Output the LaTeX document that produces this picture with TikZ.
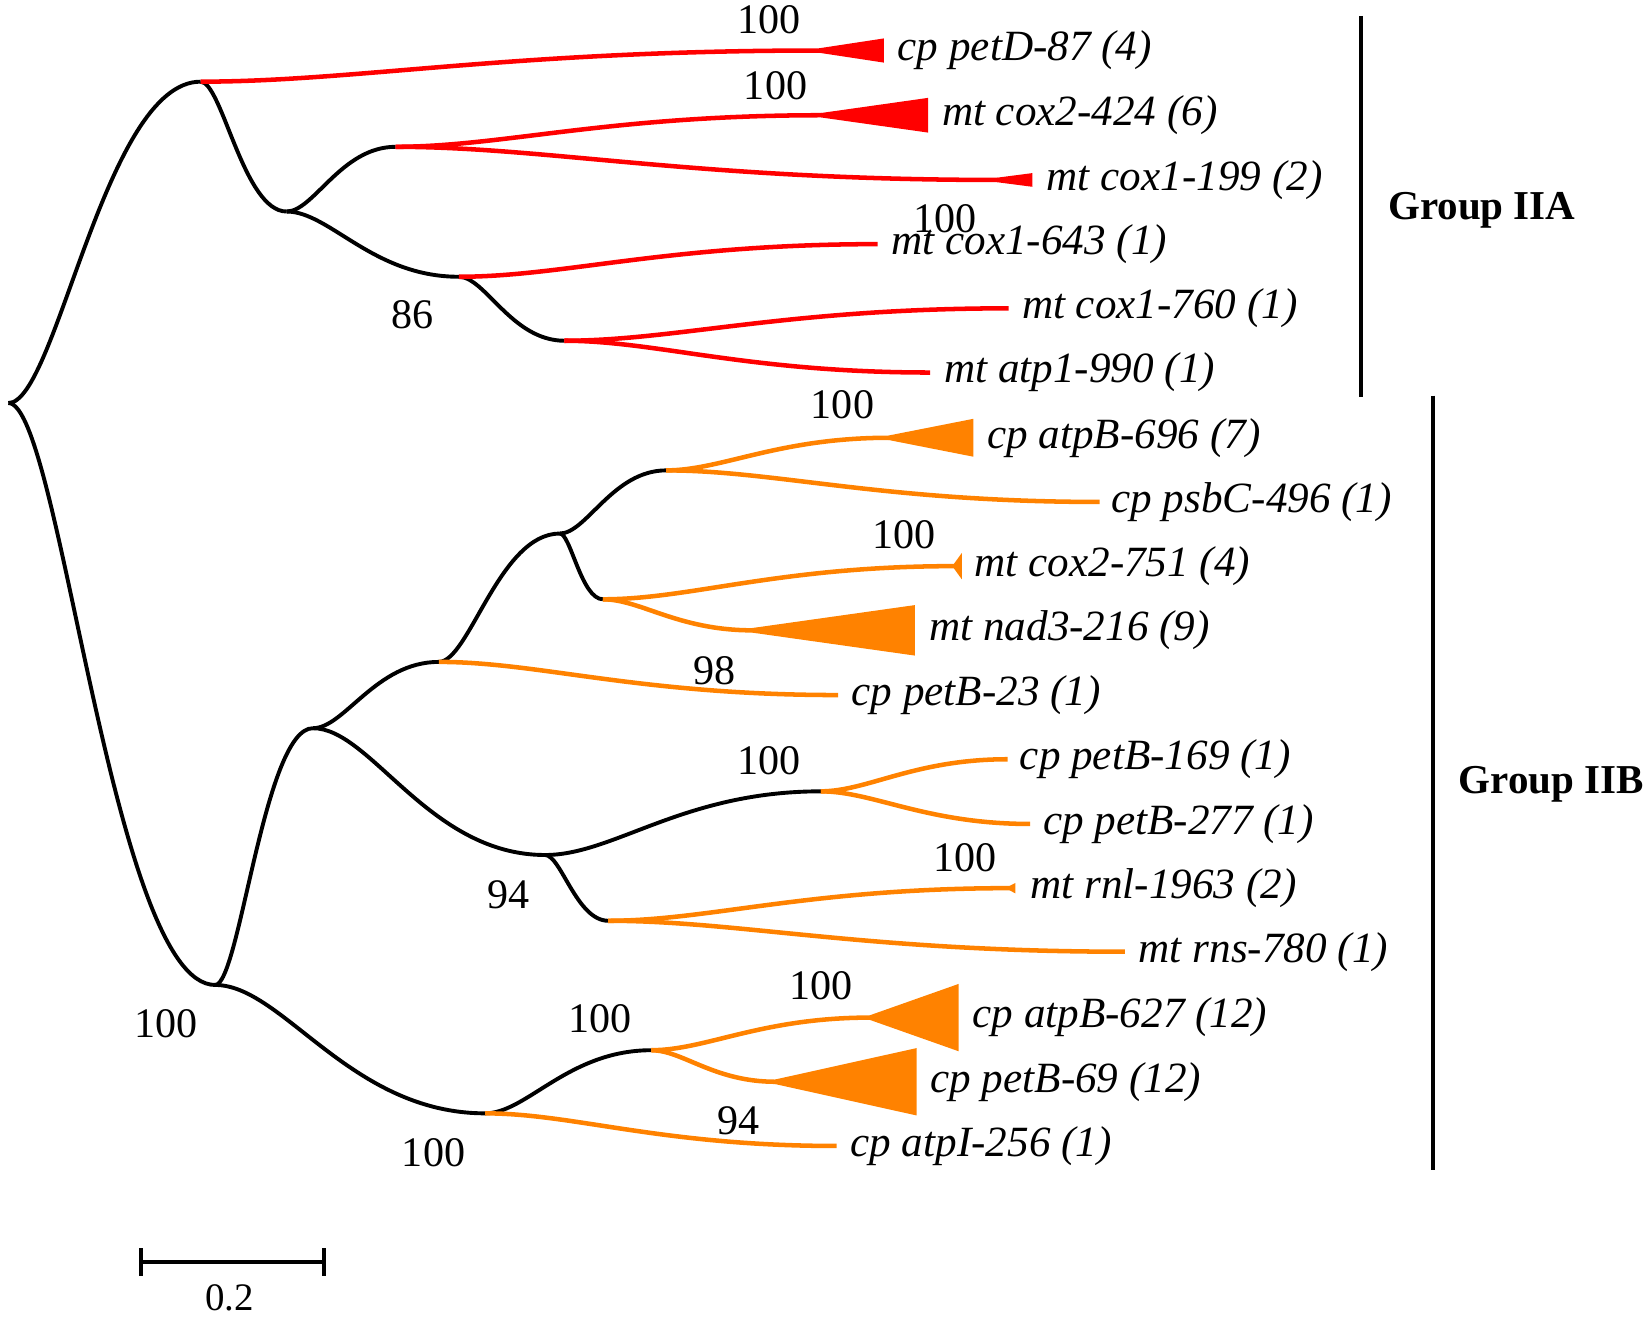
\documentclass[tikz,border=0pt]{standalone}
\usepackage{fontspec}
\setmainfont{Liberation Serif}
\usetikzlibrary{calc}
\definecolor{cred}{RGB}{255,0,0}
\definecolor{corange}{RGB}{255,130,0}
\tikzset{
 brk/.style={draw=black, line width=3.7pt},
 brr/.style={draw=cred, line width=4.3pt},
 bro/.style={draw=corange, line width=4.3pt},
 leaf/.style={anchor=west, inner sep=0pt, font=\fontsize{41}{49}\selectfont\itshape},
 supp/.style={inner sep=0pt, font=\fontsize{40}{48}\selectfont},
 grp/.style={anchor=base west, inner sep=0pt, font=\fontsize{39}{47}\selectfont\bfseries},
 barline/.style={draw=black, line width=3.9pt},
}
\newcommand{\curv}[3]{\path[#1] (#2) .. controls ($(#2)!0.25!(#3 |- #2)$) and ($(#2 |- #3)!0.5!(#3)$) .. (#3);}
\newcommand{\tri}[4]{\fill[#1] ($(#2)+(-0.5,-2.15)$) -- ($(#2)+(#3,-#4)$) -- ($(#2)+(#3,#4)$) -- ($(#2)+(-0.5,2.15)$) -- cycle;}
\begin{document}
\begin{tikzpicture}[x=1pt,y=-1pt]
\useasboundingbox (0,0) rectangle (1568,1251);
% internal nodes
\coordinate (R) at (8,383);
\coordinate (A) at (190.6,77.6);
\coordinate (B) at (272.3,201);
\coordinate (C) at (376,139.5);
\coordinate (D) at (436,263);
\coordinate (E) at (536.4,323.8);
\coordinate (F) at (204.5,936);
\coordinate (G) at (297.4,692);
\coordinate (H) at (417,629);
\coordinate (I) at (532,507);
\coordinate (J) at (633,447);
\coordinate (K) at (573,569.5);
\coordinate (L) at (518,812.5);
\coordinate (M) at (780,752);
\coordinate (N) at (578,875);
\coordinate (O) at (461,1058);
\coordinate (P) at (619,998);
% leaf ends
\coordinate (l1) at (779,48);
\coordinate (l2) at (781,109.5);
\coordinate (l3) at (948,171);
\coordinate (l4) at (834,232);
\coordinate (l5) at (958.6,293);
\coordinate (l6) at (884,354);
\coordinate (l7) at (845,416);
\coordinate (l8) at (1045,477);
\coordinate (l9) at (907,538);
\coordinate (l10) at (715,599);
\coordinate (l11) at (796.4,660.5);
\coordinate (l12) at (957.5,721.5);
\coordinate (l13) at (979,783);
\coordinate (l14) at (960,844);
\coordinate (l15) at (1069,904.4);
\coordinate (l16) at (827,967);
\coordinate (l17) at (737,1028);
\coordinate (l18) at (795,1089);
% black branches
\curv{brk}{R}{A}
\curv{brk}{R}{F}
\curv{brk}{A}{B}
\curv{brk}{B}{C}
\curv{brk}{B}{D}
\curv{brk}{D}{E}
\curv{brk}{F}{G}
\curv{brk}{F}{O}
\curv{brk}{G}{H}
\curv{brk}{G}{L}
\curv{brk}{H}{I}
\curv{brk}{I}{J}
\curv{brk}{I}{K}
\curv{brk}{L}{M}
\curv{brk}{L}{N}
\curv{brk}{O}{P}
% red branches
\curv{brr}{A}{l1}
\curv{brr}{C}{l2}
\curv{brr}{C}{l3}
\curv{brr}{D}{l4}
\curv{brr}{E}{l5}
\curv{brr}{E}{l6}
% orange branches
\curv{bro}{J}{l7}
\curv{bro}{J}{l8}
\curv{bro}{K}{l9}
\curv{bro}{K}{l10}
\curv{bro}{H}{l11}
\curv{bro}{M}{l12}
\curv{bro}{M}{l13}
\curv{bro}{N}{l14}
\curv{bro}{N}{l15}
\curv{bro}{P}{l16}
\curv{bro}{P}{l17}
\curv{bro}{O}{l18}
% collapsed clades
\tri{cred}{l1}{61}{11.5}
\tri{cred}{l2}{101}{16.5}
\tri{cred}{l3}{33}{6.5}
\tri{corange}{l7}{80}{18}
\tri{corange}{l9}{7}{12.5}
\tri{corange}{l10}{154.5}{24}
\tri{corange}{l14}{5}{5}
\tri{corange}{l16}{84}{32}
\tri{corange}{l17}{134}{32}
% leaf labels
\node[leaf] (t1) at (853,48) {cp petD-87 (4)};
\node[leaf] (t2) at (895,109.5) {mt cox2-424 (6)};
\node[leaf] (t3) at (994.6,171) {mt cox1-199 (2)};
\node[leaf] (t4) at (847,232) {mt cox1-643 (1)};
\node[leaf] (t5) at (971,293) {mt cox1-760 (1)};
\node[leaf] (t6) at (897,354) {mt atp1-990 (1)};
\node[leaf] (t7) at (938,416) {cp atpB-696 (7)};
\node[leaf] (t8) at (1056,477) {cp psbC-496 (1)};
\node[leaf] (t9) at (926,538) {mt cox2-751 (4)};
\node[leaf] (t10) at (883,599) {mt nad3-216 (9)};
\node[leaf] (t11) at (809,660.5) {cp petB-23 (1)};
\node[leaf] (t12) at (969,721.5) {cp petB-169 (1)};
\node[leaf] (t13) at (991,783) {cp petB-277 (1)};
\node[leaf] (t14) at (979,844) {mt rnl-1963 (2)};
\node[leaf] (t15) at (1082,904.4) {mt rns-780 (1)};
\node[leaf] (t16) at (924,967) {cp atpB-627 (12)};
\node[leaf] (t17) at (884,1028) {cp petB-69 (12)};
\node[leaf] (t18) at (808,1089) {cp atpI-256 (1)};
% support values
\node[supp] (s1) at (731,19) {100};
\node[supp] (s2) at (737,81) {100};
\node[supp] (s3) at (898,207.5) {100};
\node[supp] (s4) at (392,299.5) {86};
\node[supp] (s5) at (800.6,385) {100};
\node[supp] (s6) at (859,508) {100};
\node[supp] (s7) at (679,637) {98};
\node[supp] (s8) at (731,723) {100};
\node[supp] (s9) at (483,850) {94};
\node[supp] (s10) at (917,815) {100};
\node[supp] (s11) at (158,973) {100};
\node[supp] (s12) at (570,968) {100};
\node[supp] (s13) at (780,937) {100};
\node[supp] (s14) at (702,1065) {94};
\node[supp] (s15) at (412,1095) {100};
% group bars
\coordinate (ga1) at (1293,15);
\coordinate (ga2) at (1293,377);
\coordinate (gb1) at (1362,376);
\coordinate (gb2) at (1362,1112);
\draw[barline] (ga1) -- (ga2);
\draw[barline] (gb1) -- (gb2);
\node[grp] (g1) at (1319,209) {Group IIA};
\node[grp] (g2) at (1386,754) {Group IIB};
% scale bar
\coordinate (sb1) at (133.6,1199);
\coordinate (sb2) at (308,1199);
\draw[barline] (sb1) -- (sb2);
\draw[barline] ($(sb1)+(0,-13)$) -- ($(sb1)+(0,14)$);
\draw[barline] ($(sb2)+(0,-13)$) -- ($(sb2)+(0,14)$);
\node[inner sep=0pt, font=\fontsize{37}{44}\selectfont] (sbl) at (218,1233) {0.2};
\end{tikzpicture}
\end{document}
